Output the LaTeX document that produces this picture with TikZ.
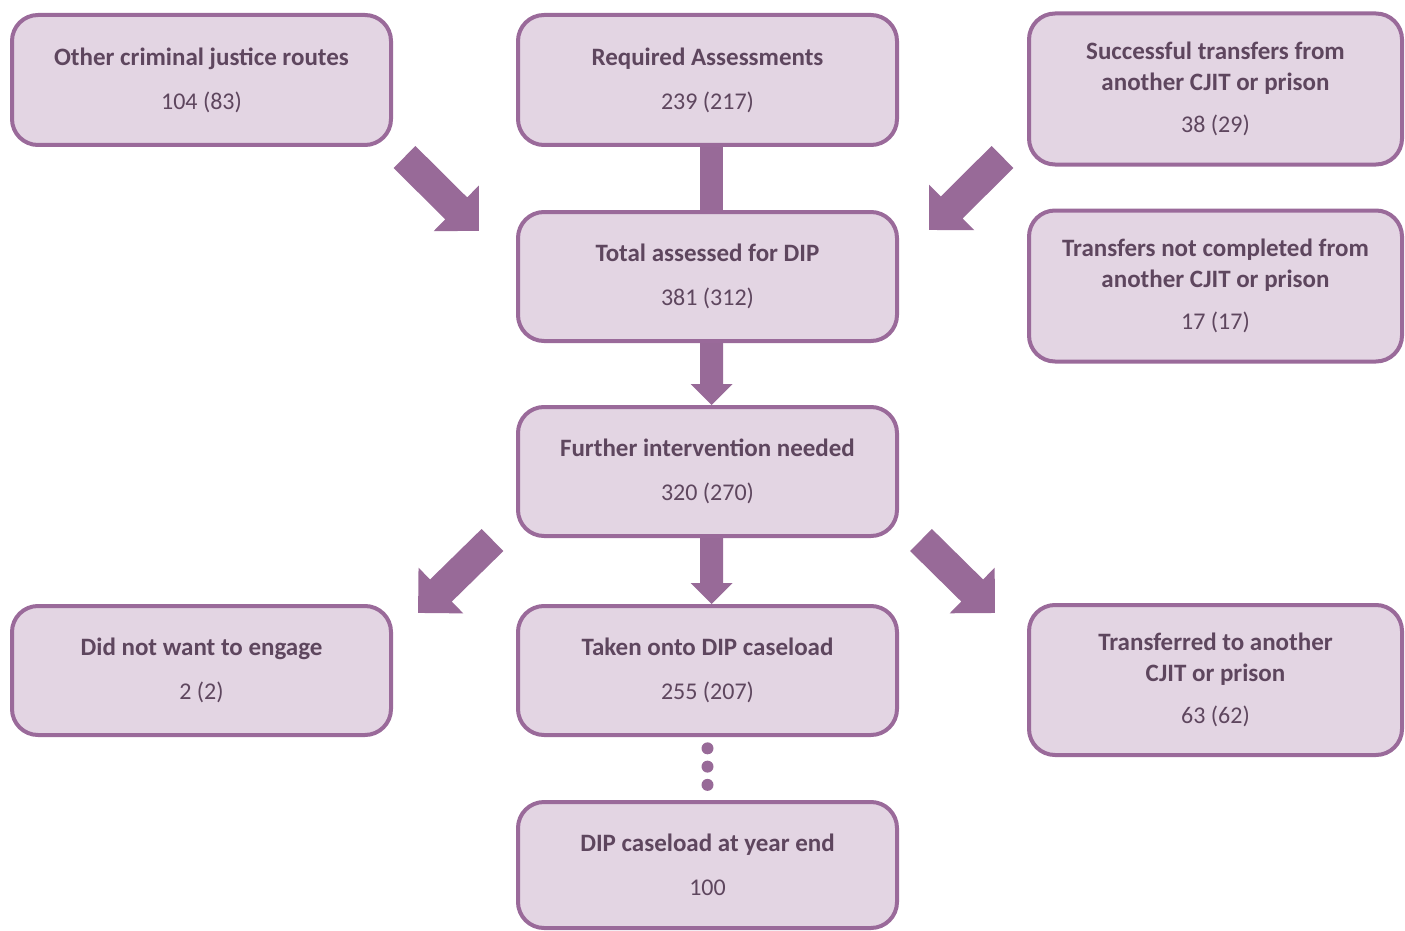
\documentclass[tikz,border=0pt]{standalone}
\usepackage{fontspec}
\setmainfont{Carlito}
\usetikzlibrary{calc}

\definecolor{boxfill}{HTML}{E3D5E3}
\definecolor{boxline}{HTML}{9A6A9A}
\definecolor{arrowfill}{HTML}{986A98}
\definecolor{txtpurple}{HTML}{5E465E}

\newcommand\stagecount[1]{{\fontsize{24}{31}\mdseries\selectfont #1}}

% block arrow: from, to, shaft half width, head half width, head length
\newcommand\fatarrow[5]{%
  \path let \p1 = ($(#2)-(#1)$) in
    \pgfextra{\pgfmathsetmacro\arrang{atan2(\y1,\x1)}%
      \pgfmathsetmacro\arrlen{veclen(\x1,\y1)}%
      \global\let\arrang\arrang\global\let\arrlen\arrlen};
  \fill[arrowfill, shift={(#1)}, rotate=\arrang]
    (0,#3) -- (\arrlen-#5,#3) -- (\arrlen-#5,#4) -- (\arrlen,0)
    -- (\arrlen-#5,-#4) -- (\arrlen-#5,-#3) -- (0,-#3) -- cycle;
}

\tikzset{
  stage/.style = {shape = rectangle, draw = boxline, fill = boxfill, line width = 4pt,
    rounded corners = 26pt, align = center, text = txtpurple, inner sep = 0pt,
    font = \fontsize{25}{31}\bfseries\selectfont,
    minimum width = 379pt, minimum height = 129pt},
  sidestage/.style = {stage, minimum width = 373pt, minimum height = 151pt},
  link/.style = {draw = arrowfill, line width = 23pt}
}

\begin{document}
\begin{tikzpicture}[x=1pt, y=-1pt]
\useasboundingbox (0,0) rectangle (1405,931);
\clip (0,0) rectangle (1405,931);

% left column
\node[stage, minimum height = 130pt] (other) at (201.5,80) {Other criminal justice routes\\[13pt]\stagecount{104 (83)}};
\node[stage] (noengage) at (201.5,670.5) {Did not want to engage\\[13pt]\stagecount{2 (2)}};

% centre column
\node[stage, minimum height = 130pt] (required) at (707.5,80) {Required Assessments\\[13pt]\stagecount{239 (217)}};
\node[stage] (total) at (707.5,276.5) {Total assessed for DIP\\[13pt]\stagecount{381 (312)}};
\node[stage] (further) at (707.5,471.5) {Further intervention needed\\[13pt]\stagecount{320 (270)}};
\node[stage] (caseload) at (707.5,670.5) {Taken onto DIP caseload\\[13pt]\stagecount{255 (207)}};
\node[stage, minimum height = 126pt] (yearend) at (707.5,865) {DIP caseload at year end\\[13pt]\stagecount{100}};

% right column
\node[sidestage] (successful) at (1215.5,89) {Successful transfers from\\another CJIT or prison\\[11pt]\stagecount{38 (29)}};
\node[sidestage] (notdone) at (1215.5,286) {Transfers not completed from\\another CJIT or prison\\[11pt]\stagecount{17 (17)}};
\node[sidestage, minimum height = 150pt] (transferred) at (1215.5,680) {Transferred to another\\CJIT or prison\\[11pt]\stagecount{63 (62)}};

% centre connectors
\coordinate (reqout) at ([xshift=4pt]required.south);
\coordinate (totin) at ([xshift=4pt]total.north);
\coordinate (totout) at ([xshift=4pt]total.south);
\coordinate (furin) at ([xshift=4pt]further.north);
\coordinate (furout) at ([xshift=4pt]further.south);
\coordinate (casin) at ([xshift=4pt]caseload.north);
\path[link] (reqout) -- (totin);
\fatarrow{totout}{furin}{11.5}{21}{21}
\fatarrow{furout}{casin}{11.5}{21}{21}

% diagonal arrows
\coordinate (otherarr) at (404.5,157);
\coordinate (otherarrtip) at (479,231);
\coordinate (succarr) at (1002.5,157);
\coordinate (succarrtip) at (929,230);
\coordinate (noengarr) at (492.5,540);
\coordinate (noengarrtip) at (418,613);
\coordinate (transarr) at (921,540);
\coordinate (transarrtip) at (995,613);
\fatarrow{otherarr}{otherarrtip}{15.5}{32}{32}
\fatarrow{succarr}{succarrtip}{15.5}{32}{32}
\fatarrow{noengarr}{noengarrtip}{15.5}{32}{32}
\fatarrow{transarr}{transarrtip}{15.5}{32}{32}

% dots down to year end
\foreach \f in {0.18,0.47,0.76}
  \fill[arrowfill] ($(caseload.south)!\f!(yearend.north)$) circle (6pt);
\end{tikzpicture}
\end{document}
